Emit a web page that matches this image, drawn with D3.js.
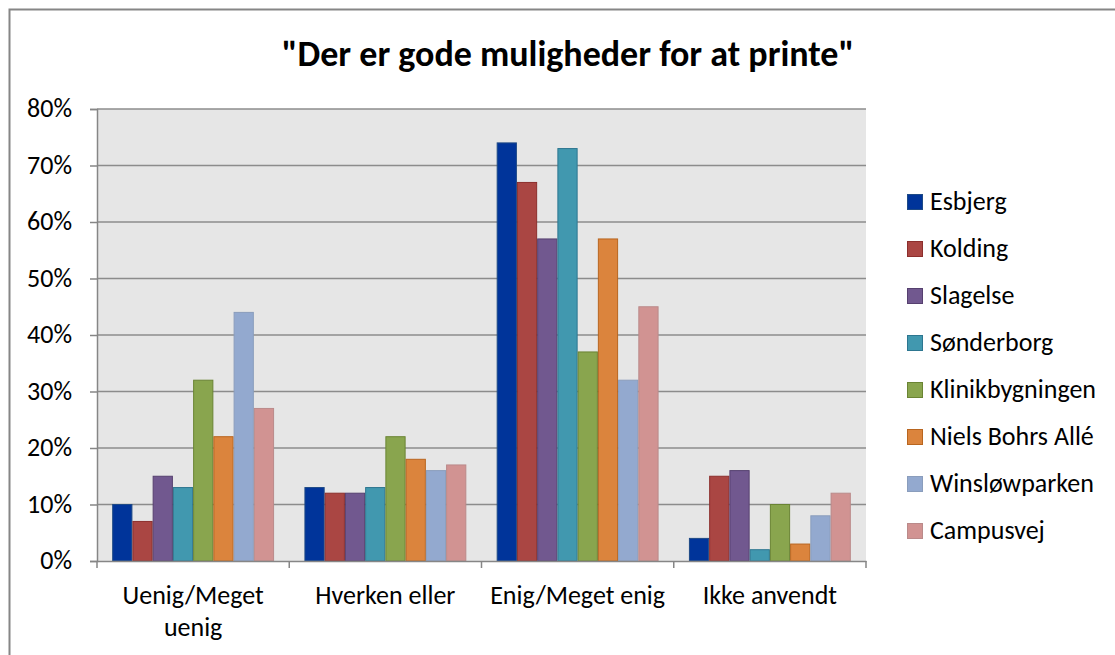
<!DOCTYPE html>
<html>
<head>
<meta charset="utf-8">
<script src="https://cdn.jsdelivr.net/npm/d3@7"></script>
<style>
  body { margin: 0; background: #fff; }
  text { font-family: Calibri, Carlito, Lato, sans-serif; fill: #000; }
</style>
</head>
<body>
<div id="chart"></div>
<script>
const categories = ['Uenig/Meget uenig', 'Hverken eller', 'Enig/Meget enig', 'Ikke anvendt'];
const series = ['Esbjerg', 'Kolding', 'Slagelse', 'Sønderborg', 'Klinikbygningen', 'Niels Bohrs Allé', 'Winsløwparken', 'Campusvej'];
const esbjerg = [10, 13, 74, 4];
const kolding = [7, 12, 67, 15];
const slagelse = [15, 12, 57, 16];
const soenderborg = [13, 13, 73, 2];
const klinik = [32, 22, 37, 10];
const nielsBohr = [22, 18, 57, 3];
const winsloew = [44, 16, 32, 8];
const campusvej = [27, 17, 45, 12];
const yTicks = [0, 10, 20, 30, 40, 50, 60, 70, 80];
const fills = ['#00349A', '#AA4643', '#71588F', '#4198AF', '#89A54E', '#DB843D', '#93A9CF', '#D19392'];
const strokes = ['#1E4A86', '#8C2F2D', '#56406F', '#2D7690', '#6A8434', '#B8651F', '#8A9DBC', '#BA8A8A'];

const values = [esbjerg, kolding, slagelse, soenderborg, klinik, nielsBohr, winsloew, campusvej];

const W = 1115, H = 655;
const margin = { left: 97, right: 249, top: 109, bottom: 94 };
const pw = W - margin.left - margin.right;
const ph = H - margin.top - margin.bottom;
const fs = '26px';

const svg = d3.select('#chart').append('svg')
  .attr('width', W).attr('height', H);

// chart border
svg.append('rect')
  .attr('x', 9.5).attr('y', 9.5).attr('width', W + 10).attr('height', H + 10)
  .attr('fill', '#fff').attr('stroke', '#868686').attr('stroke-width', 2);

svg.append('text')
  .attr('x', 568).attr('y', 66)
  .attr('text-anchor', 'middle')
  .style('font-size', '36px').style('font-weight', 'bold')
  .text('"Der er gode muligheder for at printe"');

const g = svg.append('g').attr('transform', `translate(${margin.left},${margin.top})`);

const x0 = d3.scaleBand().domain(categories).range([0, pw]).paddingInner(0).paddingOuter(0);
const x1 = d3.scaleBand().domain(series).range([0, x0.bandwidth()]).paddingOuter(0.75).paddingInner(0);
const y = d3.scaleLinear().domain([0, 80]).range([ph, 0]);

g.append('rect').attr('width', pw).attr('height', ph).attr('fill', '#E6E6E6');

// gridlines
g.append('g').selectAll('line').data(yTicks.slice(1)).join('line')
  .attr('x1', 0).attr('x2', pw)
  .attr('y1', d => y(d)).attr('y2', d => y(d))
  .attr('stroke', '#8C8C8C').attr('stroke-width', 1.5);

// bars
series.forEach((s, si) => {
  g.append('g').selectAll('rect').data(values[si]).join('rect')
    .attr('x', (d, i) => x0(categories[i]) + x1(s) + 0.5)
    .attr('y', d => y(d))
    .attr('width', x1.bandwidth() - 1)
    .attr('height', d => ph - y(d))
    .attr('fill', fills[si])
    .attr('stroke', strokes[si]).attr('stroke-width', 1);
});

// y axis
const yAxis = g.append('g')
  .call(d3.axisLeft(y).tickValues(yTicks).tickFormat(d => d + '%').tickSize(7).tickPadding(18));
yAxis.select('.domain').attr('stroke', '#868686').attr('stroke-width', 1.5);
yAxis.selectAll('.tick line').attr('stroke', '#868686').attr('stroke-width', 1.5);
yAxis.selectAll('text').style('font-size', fs).attr('fill', '#000').attr('dy', '0.3em');

// x axis
const xAxis = g.append('g').attr('transform', `translate(0,${ph})`)
  .call(d3.axisBottom(x0).tickSize(0).tickFormat(''));
xAxis.select('.domain').attr('stroke', '#868686').attr('stroke-width', 1.5);
xAxis.selectAll('.tick').remove();
const bounds = categories.map(c => x0(c)).concat([pw]);
xAxis.append('g').selectAll('line').data(bounds).join('line')
  .attr('x1', d => d).attr('x2', d => d).attr('y1', 0).attr('y2', 7)
  .attr('stroke', '#868686').attr('stroke-width', 1.5);

const labelLines = {
  'Uenig/Meget uenig': ['Uenig/Meget', 'uenig']
};
categories.forEach(c => {
  const lines = labelLines[c] || [c];
  const cx = x0(c) + x0.bandwidth() / 2;
  const t = xAxis.append('text')
    .attr('x', cx)
    .attr('y', 43)
    .attr('text-anchor', 'middle')
    .style('font-size', fs);
  lines.forEach((l, i) => {
    t.append('tspan').attr('x', cx).attr('dy', i === 0 ? 0 : 31.5).text(l);
  });
});

// legend
const legend = svg.append('g').attr('transform', 'translate(907,194)');
series.forEach((s, i) => {
  const row = legend.append('g').attr('transform', `translate(0,${i * 47})`);
  row.append('rect').attr('x', 0.5).attr('y', 0.5).attr('width', 15).attr('height', 15)
    .attr('fill', fills[i]).attr('stroke', strokes[i]);
  row.append('text').attr('x', 23).attr('y', 15.5).style('font-size', fs).text(s);
});
</script>
</body>
</html>
